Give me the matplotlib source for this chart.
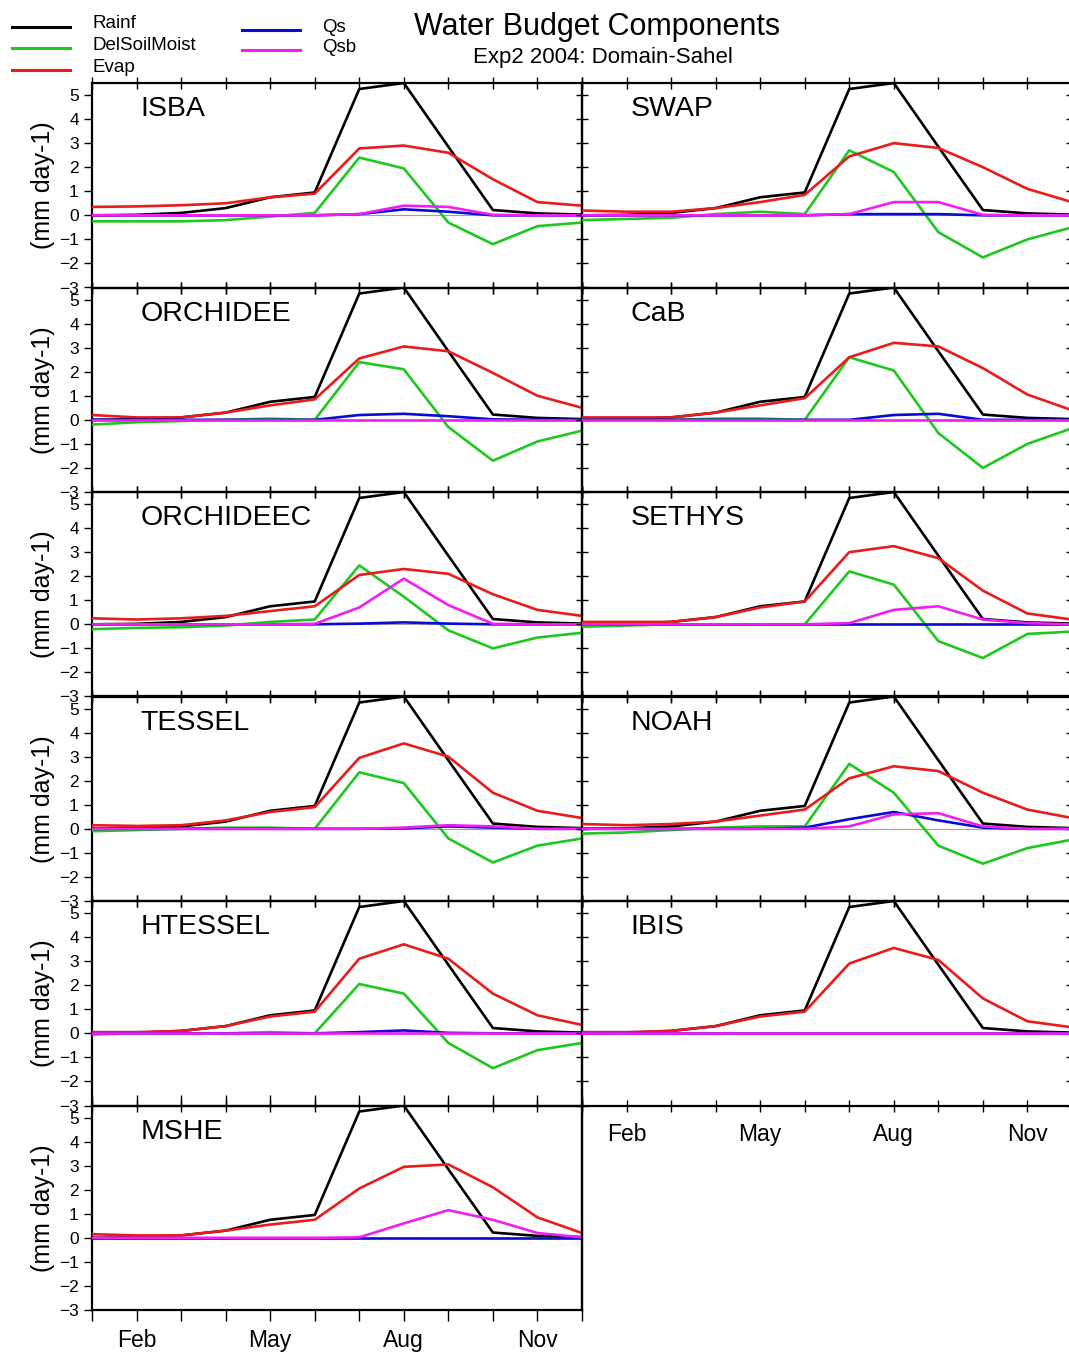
"""
Water budget components, Exp2 2004, Sahel domain: 11 land surface models.
"""

import matplotlib
matplotlib.use("Agg")
import matplotlib.pyplot as plt
import numpy as np

plt.rcParams["font.family"] = ["Liberation Sans", "DejaVu Sans"]

# ─────────────────────────────────────────────────────────────────────────────
# DATA (mm day-1, Jan..Dec)
# ─────────────────────────────────────────────────────────────────────────────

MESES = np.arange(12)
ETIQ_MESES = ["Feb", "May", "Aug", "Nov"]
POS_ETIQ = [1, 4, 7, 10]

MODELOS = ["ISBA", "SWAP", "ORCHIDEE", "CaB", "ORCHIDEEC", "SETHYS",
           "TESSEL", "NOAH", "HTESSEL", "IBIS", "MSHE"]

RAINF = [0.0, 0.02, 0.1, 0.3, 0.75, 0.95, 5.25, 5.5, 2.85, 0.22, 0.08, 0.03]

EVAP = {
    "ISBA":      [0.35, 0.37, 0.42, 0.5, 0.75, 0.9, 2.78, 2.9, 2.6, 1.5, 0.55, 0.4],
    "SWAP":      [0.2, 0.15, 0.15, 0.3, 0.55, 0.85, 2.45, 3.0, 2.8, 2.0, 1.1, 0.55],
    "ORCHIDEE":  [0.2, 0.1, 0.1, 0.3, 0.6, 0.85, 2.55, 3.05, 2.85, 1.95, 1.0, 0.5],
    "CaB":       [0.1, 0.1, 0.1, 0.3, 0.6, 0.9, 2.6, 3.2, 3.05, 2.15, 1.05, 0.4],
    "ORCHIDEEC": [0.25, 0.2, 0.25, 0.35, 0.55, 0.75, 2.05, 2.3, 2.1, 1.25, 0.6, 0.35],
    "SETHYS":    [0.1, 0.1, 0.1, 0.3, 0.7, 0.95, 3.0, 3.25, 2.75, 1.4, 0.45, 0.2],
    "TESSEL":    [0.15, 0.12, 0.15, 0.35, 0.7, 0.9, 2.95, 3.55, 3.0, 1.5, 0.75, 0.45],
    "NOAH":      [0.2, 0.15, 0.2, 0.3, 0.55, 0.8, 2.1, 2.6, 2.4, 1.5, 0.8, 0.45],
    "HTESSEL":   [0.05, 0.05, 0.1, 0.3, 0.7, 0.9, 3.1, 3.7, 3.1, 1.65, 0.75, 0.35],
    "IBIS":      [0.05, 0.05, 0.1, 0.3, 0.7, 0.9, 2.9, 3.55, 3.05, 1.45, 0.5, 0.25],
    "MSHE":      [0.15, 0.1, 0.1, 0.3, 0.55, 0.75, 2.05, 2.95, 3.05, 2.1, 0.85, 0.2],
}

NAN = np.nan
DELSOIL = {
    "ISBA":      [-0.25, -0.25, -0.25, -0.2, -0.05, 0.1, 2.4, 1.95, -0.3, -1.2, -0.45, -0.3],
    "SWAP":      [-0.2, -0.15, -0.1, 0.05, 0.15, 0.05, 2.7, 1.8, -0.7, -1.75, -1.0, -0.5],
    "ORCHIDEE":  [-0.2, -0.1, -0.05, 0.0, 0.05, 0.0, 2.4, 2.1, -0.3, -1.7, -0.9, -0.45],
    "CaB":       [0.0, 0.0, 0.0, 0.05, 0.05, 0.0, 2.6, 2.05, -0.55, -2.0, -1.0, -0.35],
    "ORCHIDEEC": [-0.2, -0.15, -0.12, -0.05, 0.1, 0.2, 2.45, 1.15, -0.25, -1.0, -0.55, -0.35],
    "SETHYS":    [-0.1, -0.05, 0.0, 0.0, 0.0, 0.0, 2.2, 1.65, -0.7, -1.4, -0.4, -0.3],
    "TESSEL":    [-0.1, -0.05, 0.0, 0.05, 0.05, 0.0, 2.35, 1.9, -0.4, -1.4, -0.7, -0.4],
    "NOAH":      [-0.2, -0.15, -0.05, 0.05, 0.1, 0.1, 2.7, 1.5, -0.7, -1.45, -0.8, -0.45],
    "HTESSEL":   [-0.05, 0.0, 0.0, 0.0, 0.05, 0.0, 2.05, 1.65, -0.4, -1.45, -0.7, -0.4],
    "IBIS":      [NAN] * 12,
    "MSHE":      [NAN] * 12,
}

QS = {
    "ISBA":      [0, 0, 0, 0, 0, 0, 0.05, 0.25, 0.15, 0.0, 0, 0],
    "SWAP":      [0, 0, 0, 0, 0, 0, 0.05, 0.05, 0.05, 0.0, 0, 0],
    "ORCHIDEE":  [0, 0, 0, 0, 0, 0, 0.2, 0.25, 0.15, 0.02, 0, 0],
    "CaB":       [0, 0, 0, 0, 0, 0, 0.0, 0.2, 0.25, 0.0, 0, 0],
    "ORCHIDEEC": [0, 0, 0, 0, 0, 0, 0.03, 0.08, 0.03, 0.0, 0, 0],
    "SETHYS":    [0, 0, 0, 0, 0, 0, 0.0, 0.0, 0.0, 0.0, 0, 0],
    "TESSEL":    [0, 0, 0, 0, 0, 0, 0.0, 0.02, 0.1, 0.05, 0, 0],
    "NOAH":      [0, 0, 0, 0, 0, 0.05, 0.4, 0.7, 0.35, 0.05, 0, 0],
    "HTESSEL":   [0, 0, 0, 0, 0, 0, 0.05, 0.12, 0.02, 0.0, 0, 0],
    "IBIS":      [0, 0, 0, 0, 0, 0, 0.0, 0.0, 0.0, 0.0, 0, 0],
    "MSHE":      [0, 0, 0, 0, 0, 0, 0.0, 0.0, 0.0, 0.0, 0, 0],
}

QSB = {
    "ISBA":      [0, 0, 0, 0, 0, 0, 0.05, 0.4, 0.35, 0.02, 0, 0],
    "SWAP":      [0, 0, 0, 0, 0, 0, 0.05, 0.55, 0.55, 0.02, 0, 0],
    "ORCHIDEE":  [0, 0, 0, 0, 0, 0, 0.0, 0.0, 0.0, 0.0, 0, 0],
    "CaB":       [0, 0, 0, 0, 0, 0, 0.0, 0.0, 0.0, 0.0, 0, 0],
    "ORCHIDEEC": [0, 0, 0, 0, 0, 0.02, 0.7, 1.9, 0.8, 0.02, 0, 0],
    "SETHYS":    [0, 0, 0, 0, 0, 0, 0.05, 0.6, 0.75, 0.2, 0.05, 0],
    "TESSEL":    [0, 0, 0, 0, 0, 0, 0.0, 0.05, 0.15, 0.1, 0, 0],
    "NOAH":      [0, 0, 0, 0, 0, 0, 0.1, 0.6, 0.65, 0.1, 0, 0],
    "HTESSEL":   [0, 0, 0, 0, 0, 0, 0.0, 0.0, 0.0, 0.0, 0, 0],
    "IBIS":      [0, 0, 0, 0, 0, 0, 0.0, 0.0, 0.0, 0.0, 0, 0],
    "MSHE":      [0, 0, 0, 0, 0, 0, 0.02, 0.6, 1.15, 0.75, 0.2, 0.02],
}

COLORES = {
    "Rainf": "#000000",
    "DelSoilMoist": "#1ec81e",
    "Evap": "#e81c1c",
    "Qs": "#0a0ad2",
    "Qsb": "#f01ef0",
}

# ─────────────────────────────────────────────────────────────────────────────
# FIGURA
# ─────────────────────────────────────────────────────────────────────────────

W, H = 1069, 1356
fig = plt.figure(figsize=(W / 100, H / 100), dpi=100)

X0 = [92, 582]          # left edge of each column (px)
ANCHO = 490             # panel width (px)
TOP0 = 83               # top of first row (px)
ALTO = 204.5            # panel height (px)
LW = 1.9


def nueva_ax(fila, col):
    left = X0[col] / W
    bottom = 1 - (TOP0 + (fila + 1) * ALTO) / H
    ax = fig.add_axes([left, bottom, ANCHO / W, ALTO / H])
    ax.set_facecolor("none")
    return ax


for k, modelo in enumerate(MODELOS):
    fila, col = divmod(k, 2)
    ax = nueva_ax(fila, col)

    ax.axhline(0, color="#a0a0a0", linewidth=0.8, zorder=1)
    ax.plot(MESES, RAINF, color=COLORES["Rainf"], lw=LW, zorder=2)
    ax.plot(MESES, DELSOIL[modelo], color=COLORES["DelSoilMoist"], lw=LW, zorder=3)
    ax.plot(MESES, EVAP[modelo], color=COLORES["Evap"], lw=LW, zorder=4)
    ax.plot(MESES, QS[modelo], color=COLORES["Qs"], lw=LW, zorder=5)
    ax.plot(MESES, QSB[modelo], color=COLORES["Qsb"], lw=LW, zorder=6)

    ax.set_xlim(0, 11)
    ax.set_ylim(-3, 5.5)
    ax.set_yticks(range(-3, 6))
    ax.set_xticks(MESES)
    ax.tick_params(axis="x", which="major", direction="inout", length=9,
                   width=1.0, top=True, bottom=True, labelbottom=False)
    ax.tick_params(axis="y", which="major", direction="inout", length=9,
                   width=1.0, left=True, right=True, labelsize=12.5)
    for s in ax.spines.values():
        s.set_linewidth(1.6)

    if col == 0:
        ax.tick_params(axis="y", direction="out", length=6, left=True, right=False)
        ax.set_ylabel("(mm day-1)", fontsize=18, labelpad=3)
    else:
        ax.tick_params(axis="y", labelleft=False)

    last = (col == 0 and fila == 5) or (col == 1 and fila == 4)
    if last:
        ax.set_xticks(MESES)
        ax.set_xticklabels(["" if i not in POS_ETIQ else ETIQ_MESES[POS_ETIQ.index(i)]
                            for i in MESES])
        ax.tick_params(axis="x", labelbottom=True, labelsize=16.5, pad=8)
        if col == 0:
            ax.tick_params(axis="x", direction="out", length=8, pad=6)
        else:
            ax.tick_params(axis="x", direction="inout", length=9)

    ax.text(0.099, 0.935, modelo, transform=ax.transAxes, fontsize=20.5,
            ha="left", va="top", zorder=10)

# right-column side bar under IBIS (only the left spine continues)
fig.add_artist(plt.Line2D([582 / W, 582 / W],
                          [1 - (TOP0 + 5 * ALTO) / H, 1 - (TOP0 + 6 * ALTO) / H],
                          color="black", lw=1.6))

# titles
fig.text(597 / W, 1 - 27 / H, "Water Budget Components", fontsize=22,
         ha="center", va="center")
fig.text(603 / W, 1 - 57 / H, "Exp2 2004: Domain-Sahel", fontsize=16,
         ha="center", va="center")

# legend drawn by hand (NCL style)
LEYENDA = [("Rainf", 12, 27), ("DelSoilMoist", 12, 48), ("Evap", 12, 70),
           ("Qs", 242, 30), ("Qsb", 242, 50)]
for nombre, lx, ly in LEYENDA:
    y = 1 - ly / H
    fig.add_artist(plt.Line2D([lx / W, (lx + 58) / W], [y, y],
                              color=COLORES[nombre], lw=2.2))
    tx = 93 if lx < 100 else 322
    fig.text(tx / W, 1 - (ly - 3) / H, nombre, fontsize=13.5, ha="left", va="center")

fig.savefig("out.png", dpi=100)
